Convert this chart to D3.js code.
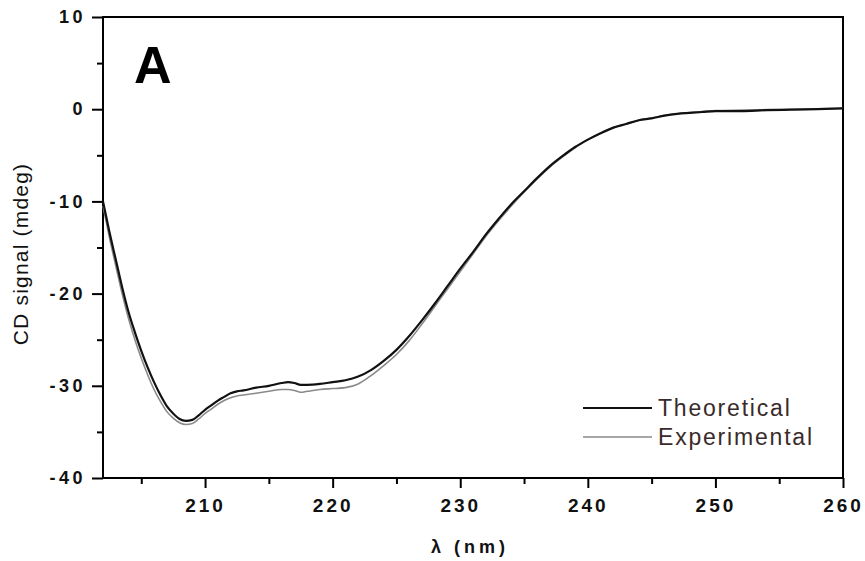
<!DOCTYPE html>
<meta charset="utf-8">
<style>
body { margin: 0; background: #fff; }
svg { display: block; font-family: "Liberation Sans", Arial, sans-serif; }
.tick text { font-weight: bold; fill: #111; }
.domain { display: none; }
</style>
<svg width="865" height="561"></svg>
<script src="https://cdn.jsdelivr.net/npm/d3@7"></script>
<script>

// wavelength (nm) and CD signal (mdeg)
var wavelength = [202, 202.5, 203, 203.5, 204, 204.5, 205, 205.5, 206, 206.5, 207, 207.5, 208, 208.5, 209, 209.5,
  210, 210.5, 211, 211.5, 212, 212.5, 213, 214, 215, 216, 216.5, 217, 217.5, 218, 219, 220, 221, 222, 223, 224,
  225, 226, 227, 228, 229, 230, 231, 232, 233, 234, 235, 236, 237, 238, 239, 240, 241, 242, 243, 244, 245, 246,
  247, 248, 249, 250, 252, 254, 256, 258, 260];

var theoretical = [-10.0, -13.3, -16.3, -19.3, -22.0, -24.2, -26.2, -28.0, -29.6, -31.0, -32.2, -33.0, -33.6, -33.8, -33.7, -33.2,
  -32.6, -32.1, -31.6, -31.2, -30.8, -30.6, -30.5, -30.2, -30.0, -29.7, -29.6, -29.7, -29.9, -29.9, -29.8, -29.6, -29.4, -29.0, -28.3, -27.3,
  -26.1, -24.6, -22.9, -21.1, -19.2, -17.3, -15.5, -13.6, -11.9, -10.3, -8.9, -7.5, -6.2, -5.1, -4.1, -3.3, -2.6, -2.0, -1.6, -1.2, -1.0, -0.7,
  -0.5, -0.4, -0.3, -0.2, -0.2, -0.1, -0.05, 0.0, 0.1];

var experimental = [-10.5, -13.9, -17.0, -20.0, -22.7, -25.0, -27.0, -28.8, -30.4, -31.7, -32.8, -33.5, -34.0, -34.2, -34.1, -33.6,
  -33.0, -32.5, -32.0, -31.6, -31.3, -31.1, -31.0, -30.8, -30.6, -30.4, -30.4, -30.5, -30.7, -30.6, -30.4, -30.3, -30.2, -29.8, -28.9, -27.8,
  -26.6, -25.1, -23.3, -21.4, -19.5, -17.6, -15.7, -13.8, -12.1, -10.5, -9.0, -7.6, -6.3, -5.2, -4.2, -3.3, -2.6, -2.0, -1.6, -1.2, -0.95, -0.7,
  -0.5, -0.35, -0.25, -0.15, -0.1, -0.05, 0.0, 0.05, 0.1];

var xTicks = [210, 220, 230, 240, 250, 260];
var xMinor = [205, 215, 225, 235, 245, 255];
var yTicks = [10, 0, -10, -20, -30, -40];
var yMinor = [5, -5, -15, -25, -35];

var seriesNames = ["Theoretical", "Experimental"];
var seriesColors = ["#111", "#8a8a8a"];

var svg = d3.select("svg"),
    margin = {top: 17, right: 22, bottom: 83, left: 103},
    width = +svg.attr("width") - margin.left - margin.right,
    height = +svg.attr("height") - margin.top - margin.bottom;

svg.append("rect").attr("width", 865).attr("height", 561).attr("fill", "#fff");

var g = svg.append("g").attr("transform", "translate(" + margin.left + "," + margin.top + ")");

var x = d3.scaleLinear().domain([202, 260]).range([0, width]);
var y = d3.scaleLinear().domain([-40, 10]).range([height, 0]);

// plain hyphen for negatives, like the original
var plain = function(d) { return String(d); };

// minor ticks first
g.append("g")
    .attr("transform", "translate(0," + height + ")")
    .call(d3.axisBottom(x).tickValues(xMinor).tickSize(6).tickFormat(""))
    .selectAll("line").attr("stroke", "#000").attr("stroke-width", 2);
g.append("g")
    .call(d3.axisLeft(y).tickValues(yMinor).tickSize(6).tickFormat(""))
    .selectAll("line").attr("stroke", "#000").attr("stroke-width", 2);

// major ticks
var xAxis = g.append("g")
    .attr("transform", "translate(0," + height + ")")
    .call(d3.axisBottom(x).tickValues(xTicks).tickSize(10).tickPadding(11).tickFormat(plain));
xAxis.selectAll("line").attr("stroke", "#000").attr("stroke-width", 2);
xAxis.selectAll("text")
    .style("font-size", "19px")
    .style("letter-spacing", "3px");

var yAxis = g.append("g")
    .call(d3.axisLeft(y).tickValues(yTicks).tickSize(11).tickPadding(9).tickFormat(plain));
yAxis.selectAll("line").attr("stroke", "#000").attr("stroke-width", 2);
yAxis.selectAll("text")
    .style("font-size", "18px")
    .style("letter-spacing", "3.5px")
    .attr("dx", 3);

// frame
g.append("rect")
    .attr("width", width)
    .attr("height", height)
    .attr("fill", "none")
    .attr("stroke", "#000")
    .attr("stroke-width", 2);

var line = d3.line()
    .x(function(d) { return x(d[0]); })
    .y(function(d) { return y(d[1]); })
    .curve(d3.curveMonotoneX);

var seriesData = [experimental, theoretical];
var seriesCol = [seriesColors[1], seriesColors[0]];
var seriesW = [1.6, 2.2];

seriesData.forEach(function(vals, i) {
  g.append("path")
      .datum(wavelength.map(function(w, j) { return [w, vals[j]]; }))
      .attr("fill", "none")
      .attr("stroke", seriesCol[i])
      .attr("stroke-width", seriesW[i])
      .attr("d", line);
});

// legend
var legend = svg.append("g").attr("transform", "translate(583,408)");
seriesNames.forEach(function(name, i) {
  var row = legend.append("g").attr("transform", "translate(0," + (i * 29) + ")");
  row.append("line")
      .attr("x1", 0).attr("x2", 69)
      .attr("stroke", seriesColors[i])
      .attr("stroke-width", i ? 1.6 : 2);
  row.append("text")
      .attr("x", 75)
      .attr("y", 8)
      .style("font-size", "23px")
      .style("letter-spacing", "1.8px")
      .attr("fill", "#3a2b2b")
      .text(name);
});

// panel letter
svg.append("text")
    .attr("x", 134)
    .attr("y", 83)
    .style("font-size", "52px")
    .style("font-weight", "bold")
    .attr("fill", "#000")
    .text("A");

// axis titles
svg.append("text")
    .attr("x", 470)
    .attr("y", 553)
    .attr("text-anchor", "middle")
    .style("font-size", "18px")
    .style("font-weight", "bold")
    .style("letter-spacing", "4px")
    .attr("fill", "#111")
    .text("λ (nm)");

svg.append("text")
    .attr("transform", "translate(28,254) rotate(-90)")
    .attr("text-anchor", "middle")
    .style("font-size", "21px")
    .style("letter-spacing", "1.2px")
    .attr("fill", "#111")
    .text("CD signal (mdeg)");

</script>
